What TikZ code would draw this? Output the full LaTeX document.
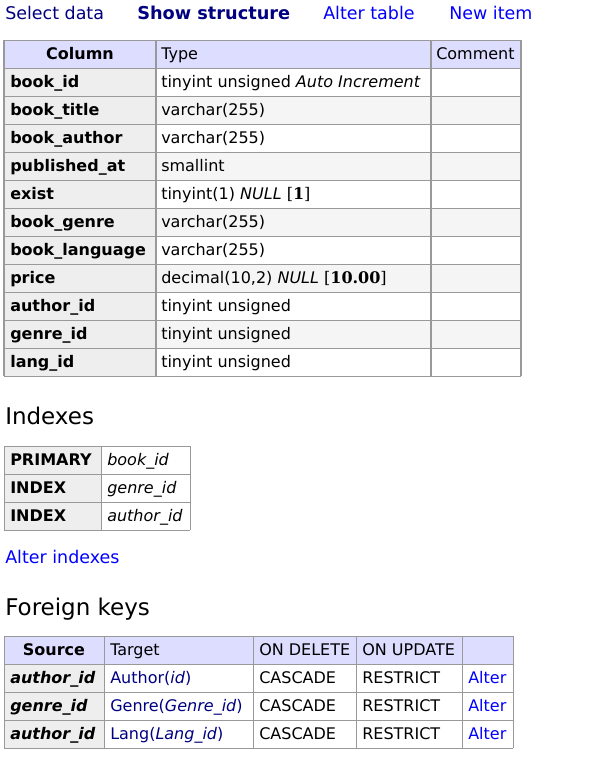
\documentclass[tikz,border=0pt]{standalone}
\usepackage{fontspec}
\setmainfont{DejaVu Sans}
\newfontfamily\valfont{DejaVu Serif}
\definecolor{headbg}{HTML}{DDDDFF}
\definecolor{thbg}{HTML}{EEEEEE}
\definecolor{oddbg}{HTML}{F5F5F5}
\definecolor{gridgray}{HTML}{999999}
\definecolor{linkblue}{HTML}{0000FF}
\definecolor{visited}{HTML}{000080}
\tikzset{
  txt/.style={anchor=base west, inner sep=0pt, font=\fontsize{12}{14}\selectfont},
  ctxt/.style={txt, anchor=base},
  menu/.style={txt, font=\fontsize{13.1}{15}\selectfont},
  heading/.style={txt, font=\fontsize{17.25}{20}\selectfont},
  hline/.style={draw=gridgray, line width=0.75pt},
  vline/.style={draw=gridgray, line width=1.5pt},
}
\newcommand{\dflt}[1]{{\valfont[\textbf{#1}]}}
\begin{document}
\begin{tikzpicture}[x=0.75pt,y=-0.75pt]
\useasboundingbox (0,0) rectangle (597,758);

% menu
\node[menu, text=visited] (sel) at (5,19) {Select data};
\node[menu, text=visited, font=\fontsize{13.3}{15}\selectfont\bfseries] (show) at (137,19) {Show structure};
\node[menu, text=linkblue] (alt) at (323,19) {Alter table};
\node[menu, text=linkblue] (new) at (449,19) {New item};

% structure table
\fill[headbg] (4,40) rectangle (521,68);
\fill[thbg] (4,68) rectangle (156,376);
\foreach \i in {2,4,...,10}
  \fill[oddbg] (156,{40+28*\i}) rectangle (521,{68+28*\i});
\foreach \i in {0,...,12}
  \draw[hline] (4,{40+28*\i}) -- (521,{40+28*\i});
\foreach \x in {4,156,431,521}
  \draw[vline] (\x,40) -- (\x,376);
\node[ctxt, font=\fontsize{12}{14}\selectfont\bfseries] (colhead) at (80,59.7) {Column};
\node[txt] (typehead) at (161,59.7) {Type};
\node[txt] (comhead) at (436,59.7) {Comment};
\foreach \nm/\ty [count=\i] in {
    book\_id/{tinyint unsigned \textit{Auto Increment}},
    book\_title/{varchar(255)},
    book\_author/{varchar(255)},
    published\_at/{smallint},
    exist/{tinyint(1) \textit{NULL} \dflt{1}},
    book\_genre/{varchar(255)},
    book\_language/{varchar(255)},
    price/{decimal(10,2) \textit{NULL} \dflt{10.00}},
    author\_id/{tinyint unsigned},
    genre\_id/{tinyint unsigned},
    lang\_id/{tinyint unsigned}} {
  \node[txt, font=\fontsize{12}{14}\selectfont\bfseries] (col\i) at (10,{59.7+28*\i}) {\nm};
  \node[txt] (type\i) at (161,{59.7+28*\i}) {\ty};
}

% indexes
\node[heading] (idxhead) at (5,424) {Indexes};
\fill[thbg] (4,446) rectangle (101,530);
\foreach \i in {0,...,3}
  \draw[hline] (4,{446+28*\i}) -- (190,{446+28*\i});
\foreach \x in {4,101,190}
  \draw[hline] (\x,446) -- (\x,530);
\foreach \kind/\fld [count=\i from 0] in {PRIMARY/book\_id, INDEX/genre\_id, INDEX/author\_id} {
  \node[txt, font=\fontsize{12}{14}\selectfont\bfseries] (kind\i) at (10,{465.7+28*\i}) {\kind};
  \node[txt, font=\fontsize{12}{14}\selectfont\itshape] (fld\i) at (107,{465.7+28*\i}) {\fld};
}
\node[menu, text=linkblue] (altidx) at (5,563) {Alter indexes};

% foreign keys
\node[heading] (fkhead) at (5,615) {Foreign keys};
\fill[headbg] (4,636) rectangle (513,664);
\fill[thbg] (4,664) rectangle (104,748);
\foreach \i in {0,...,4}
  \draw[hline] (4,{636+28*\i}) -- (513,{636+28*\i});
\foreach \x in {4,104,253,356,462,513}
  \draw[hline] (\x,636) -- (\x,748);
\node[ctxt, font=\fontsize{12}{14}\selectfont\bfseries] (srchead) at (54,655.7) {Source};
\node[txt] (tgthead) at (110,655.7) {Target};
\node[txt] (delhead) at (259,655.7) {ON DELETE};
\node[txt] (updhead) at (362,655.7) {ON UPDATE};
\foreach \src/\tgt [count=\i] in {
    author\_id/{Author(\textit{id})},
    genre\_id/{Genre(\textit{Genre\_id})},
    author\_id/{Lang(\textit{Lang\_id})}} {
  \node[txt, font=\fontsize{12}{14}\selectfont\bfseries\itshape] (src\i) at (10,{655.7+28*\i}) {\src};
  \node[txt, text=visited] (tgt\i) at (110,{655.7+28*\i}) {\tgt};
  \node[txt] (del\i) at (259,{655.7+28*\i}) {CASCADE};
  \node[txt] (upd\i) at (362,{655.7+28*\i}) {RESTRICT};
  \node[txt, text=linkblue] (fkalt\i) at (468,{655.7+28*\i}) {Alter};
}
\end{tikzpicture}
\end{document}
